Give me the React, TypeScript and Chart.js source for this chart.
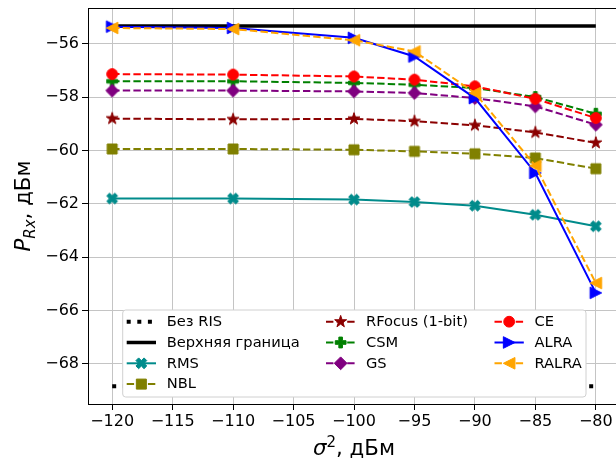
import React, { useEffect, useRef } from "react";
import { Chart, registerables } from "chart.js";

Chart.register(...registerables);

// ---------- data ----------
const sigmaDbm = [-120, -110, -100, -95, -90, -85, -80];
const noRisValues = [-68.84, -68.84, -68.84, -68.84, -68.84, -68.84, -68.84];
const upperBoundValues = [-55.33, -55.33, -55.33, -55.33, -55.33, -55.33, -55.33];
const rmsValues = [-61.8, -61.8, -61.84, -61.93, -62.07, -62.41, -62.84];
const nblValues = [-59.94, -59.94, -59.97, -60.03, -60.12, -60.28, -60.68];
const rfocusValues = [-58.8, -58.83, -58.81, -58.9, -59.05, -59.32, -59.71];
const csmValues = [-57.4, -57.4, -57.46, -57.53, -57.65, -57.99, -58.62];
const gsValues = [-57.75, -57.75, -57.78, -57.84, -58.03, -58.34, -59.03];
const ceValues = [-57.13, -57.15, -57.22, -57.34, -57.59, -58.06, -58.78];
const alraValues = [-55.35, -55.4, -55.77, -56.47, -58.03, -60.84, -65.34];
const ralraValues = [-55.4, -55.44, -55.86, -56.28, -57.84, -60.57, -64.97];

const seriesLabels = [
  "Без RIS",
  "Верхняя граница",
  "RMS",
  "NBL",
  "RFocus (1-bit)",
  "CSM",
  "GS",
  "CE",
  "ALRA",
  "RALRA",
];
const seriesValues = [
  noRisValues,
  upperBoundValues,
  rmsValues,
  nblValues,
  rfocusValues,
  csmValues,
  gsValues,
  ceValues,
  alraValues,
  ralraValues,
];

const xTickValues = [-120, -115, -110, -105, -100, -95, -90, -85, -80];
const yTickValues = [-68, -66, -64, -62, -60, -58, -56];

// ---------- styles ----------
type MarkerKind = "none" | "X" | "s" | "*" | "P" | "D" | "o" | ">" | "<";
interface SeriesStyle {
  color: string;
  dash: number[];
  width: number;
  marker: MarkerKind;
}
const DASH = [7.4, 3.2];
const seriesStyles: SeriesStyle[] = [
  { color: "#000000", dash: [4, 6.6], width: 4, marker: "none" },
  { color: "#000000", dash: [], width: 3.5, marker: "none" },
  { color: "#008B8B", dash: [], width: 2, marker: "X" },
  { color: "#808000", dash: DASH, width: 2, marker: "s" },
  { color: "#8B0000", dash: DASH, width: 2, marker: "*" },
  { color: "#008000", dash: DASH, width: 2, marker: "P" },
  { color: "#800080", dash: DASH, width: 2, marker: "D" },
  { color: "#FF0000", dash: DASH, width: 2, marker: "o" },
  { color: "#0000FF", dash: [], width: 2, marker: ">" },
  { color: "#FFA500", dash: DASH, width: 2, marker: "<" },
];

const FONT = "'DejaVu Sans', sans-serif";
const CANVAS_W = 628;
const CANVAS_H = 461;

function markerPath(ctx: CanvasRenderingContext2D, kind: MarkerKind, x: number, y: number) {
  ctx.beginPath();
  const poly = (pts: number[][]) => {
    pts.forEach((p, i) => (i === 0 ? ctx.moveTo(x + p[0], y + p[1]) : ctx.lineTo(x + p[0], y + p[1])));
    ctx.closePath();
  };
  switch (kind) {
    case "o":
      ctx.arc(x, y, 5.4, 0, Math.PI * 2);
      break;
    case "s":
      ctx.rect(x - 5, y - 5, 10, 10);
      break;
    case "D":
      poly([[0, -6.4], [6.4, 0], [0, 6.4], [-6.4, 0]]);
      break;
    case ">":
      poly([[5.8, 0], [-5.8, -5.8], [-5.8, 5.8]]);
      break;
    case "<":
      poly([[-5.8, 0], [5.8, -5.8], [5.8, 5.8]]);
      break;
    case "*": {
      const pts: number[][] = [];
      const ro = 6.3;
      const ri = ro * 0.381966;
      for (let i = 0; i < 10; i++) {
        const a = -Math.PI / 2 + (i * Math.PI) / 5;
        const r = i % 2 === 0 ? ro : ri;
        pts.push([r * Math.cos(a), r * Math.sin(a)]);
      }
      poly(pts);
      break;
    }
    case "P": {
      const s = 5.4 / 3;
      const base = [[-1, -3], [1, -3], [1, -1], [3, -1], [3, 1], [1, 1], [1, 3], [-1, 3], [-1, 1], [-3, 1], [-3, -1], [-1, -1]];
      poly(base.map((p) => [p[0] * s, p[1] * s]));
      break;
    }
    case "X": {
      const s = 5.4 / 2;
      const base = [[-1, -2], [0, -1], [1, -2], [2, -1], [1, 0], [2, 1], [1, 2], [0, 1], [-1, 2], [-2, 1], [-1, 0], [-2, -1]];
      poly(base.map((p) => [p[0] * s, p[1] * s]));
      break;
    }
    default:
      break;
  }
}

function drawMarker(ctx: CanvasRenderingContext2D, kind: MarkerKind, x: number, y: number, color: string) {
  if (kind === "none") return;
  ctx.save();
  ctx.setLineDash([]);
  markerPath(ctx, kind, x, y);
  ctx.fillStyle = color;
  ctx.fill();
  ctx.strokeStyle = color;
  ctx.lineWidth = 1;
  ctx.stroke();
  ctx.restore();
}

function makeMarkerCanvas(kind: MarkerKind, color: string): HTMLCanvasElement {
  const c = document.createElement("canvas");
  c.width = 20;
  c.height = 20;
  const ctx = c.getContext("2d")!;
  drawMarker(ctx, kind, 10, 10, color);
  return c;
}

function fmt(v: number): string {
  return String(v).replace("-", "\u2212");
}

interface TextPart {
  text: string;
  font: string;
  dy: number;
}
function drawParts(ctx: CanvasRenderingContext2D, parts: TextPart[], cx: number, baseline: number) {
  let total = 0;
  const widths = parts.map((p) => {
    ctx.font = p.font;
    const w = ctx.measureText(p.text).width;
    total += w;
    return w;
  });
  let x = cx - total / 2;
  ctx.textAlign = "left";
  ctx.textBaseline = "alphabetic";
  ctx.fillStyle = "#000";
  parts.forEach((p, i) => {
    ctx.font = p.font;
    ctx.fillText(p.text, x, baseline + p.dy);
    x += widths[i];
  });
}

const legendColumns = [
  [0, 1, 2, 3],
  [4, 5, 6],
  [7, 8, 9],
];

const customPlugin = {
  id: "customDecor",
  afterDatasetsDraw(chart: any) {
    const ctx: CanvasRenderingContext2D = chart.ctx;
    const lx = 122.7, ly = 310, lw = 463.3, lh = 87, r = 3;
    ctx.save();
    ctx.beginPath();
    ctx.moveTo(lx + r, ly);
    ctx.lineTo(lx + lw - r, ly);
    ctx.quadraticCurveTo(lx + lw, ly, lx + lw, ly + r);
    ctx.lineTo(lx + lw, ly + lh - r);
    ctx.quadraticCurveTo(lx + lw, ly + lh, lx + lw - r, ly + lh);
    ctx.lineTo(lx + r, ly + lh);
    ctx.quadraticCurveTo(lx, ly + lh, lx, ly + lh - r);
    ctx.lineTo(lx, ly + r);
    ctx.quadraticCurveTo(lx, ly, lx + r, ly);
    ctx.closePath();
    ctx.fillStyle = "#ffffff";
    ctx.fill();
    ctx.strokeStyle = "#d0d0d0";
    ctx.lineWidth = 1;
    ctx.stroke();

    const colX = [126.7, 326, 494.5];
    const rowY = [321.7, 342.5, 363.3, 384.1];
    const handleLen = 29.3;
    const textGap = 10.7;
    legendColumns.forEach((col, ci) => {
      col.forEach((si, ri) => {
        const st = seriesStyles[si];
        const x0 = colX[ci];
        const y = rowY[ri];
        ctx.save();
        ctx.beginPath();
        ctx.setLineDash(st.dash);
        ctx.lineWidth = st.width;
        ctx.strokeStyle = st.color;
        ctx.lineCap = "butt";
        ctx.moveTo(x0, y);
        ctx.lineTo(x0 + handleLen, y);
        ctx.stroke();
        ctx.restore();
        drawMarker(ctx, st.marker, x0 + handleLen / 2, y, st.color);
        ctx.fillStyle = "#000";
        ctx.font = "14.67px " + FONT;
        ctx.textAlign = "left";
        ctx.textBaseline = "middle";
        ctx.fillText(seriesLabels[si], x0 + handleLen + textGap, y + 0.5);
      });
    });
    ctx.restore();
  },
  afterDraw(chart: any) {
    const ctx: CanvasRenderingContext2D = chart.ctx;
    const area = chart.chartArea;
    ctx.save();
    ctx.strokeStyle = "#000";
    ctx.lineWidth = 1;
    ctx.setLineDash([]);
    ctx.beginPath();
    ctx.moveTo(area.left, Math.round(area.top) + 0.5);
    ctx.lineTo(area.right, Math.round(area.top) + 0.5);
    ctx.moveTo(Math.round(area.right) - 0.5, area.top);
    ctx.lineTo(Math.round(area.right) - 0.5, area.bottom);
    ctx.stroke();

    drawParts(
      ctx,
      [
        { text: "σ", font: "italic 21.3px " + FONT, dy: 0 },
        { text: "2", font: "15px " + FONT, dy: -8.5 },
        { text: ", дБм", font: "21.3px " + FONT, dy: 0 },
      ],
      354,
      455
    );
    ctx.save();
    ctx.translate(30, (area.top + area.bottom) / 2);
    ctx.rotate(-Math.PI / 2);
    drawParts(
      ctx,
      [
        { text: "P", font: "italic 21.3px " + FONT, dy: 0 },
        { text: "Rx", font: "italic 15px " + FONT, dy: 4.5 },
        { text: ", дБм", font: "21.3px " + FONT, dy: 0 },
      ],
      0,
      0
    );
    ctx.restore();
    ctx.restore();
  },
};

export default function App() {
  const canvasRef = useRef<HTMLCanvasElement | null>(null);

  useEffect(() => {
    const canvas = canvasRef.current;
    if (!canvas) return;
    const n = seriesLabels.length;
    const datasets = seriesLabels.map((label, i) => {
      const st = seriesStyles[i];
      const img = st.marker === "none" ? undefined : makeMarkerCanvas(st.marker, st.color);
      return {
        label,
        data: sigmaDbm.map((x, k) => ({ x, y: seriesValues[i][k] })),
        borderColor: st.color,
        backgroundColor: st.color,
        borderWidth: st.width,
        borderDash: st.dash,
        borderCapStyle: "butt" as const,
        pointStyle: img ?? "circle",
        pointRadius: img ? 6 : 0,
        pointHoverRadius: img ? 6 : 0,
        tension: 0,
        fill: false,
        order: n - i,
      };
    });

    const gridCommon = {
      color: "#c4c4c4",
      lineWidth: 1,
      tickColor: "#000",
      tickLength: 6,
      tickWidth: 1,
      drawTicks: true,
    };

    const chart = new Chart(canvas, {
      type: "line",
      data: { datasets: datasets as any },
      plugins: [customPlugin],
      options: {
        animation: false,
        responsive: false,
        devicePixelRatio: 1,
        layout: { padding: { top: 8, left: 0, right: 0, bottom: 0 } },
        plugins: {
          legend: { display: false },
          tooltip: { enabled: false },
          title: { display: false },
        },
        scales: {
          x: {
            type: "linear",
            min: -122,
            max: -78,
            grid: gridCommon,
            border: { display: true, color: "#000", width: 1 },
            ticks: {
              color: "#000",
              font: { family: FONT, size: 16 },
              padding: 2,
              maxRotation: 0,
              autoSkip: false,
              callback: (v: any) => fmt(Number(v)),
            },
            afterBuildTicks: (axis: any) => {
              axis.ticks = xTickValues.map((v) => ({ value: v }));
            },
            afterFit: (scale: any) => {
              scale.height = 57;
              scale.paddingLeft = 0;
              scale.paddingRight = 0;
            },
          },
          y: {
            type: "linear",
            min: -69.51,
            max: -54.65,
            grid: gridCommon,
            border: { display: true, color: "#000", width: 1 },
            ticks: {
              color: "#000",
              font: { family: FONT, size: 16 },
              padding: 3,
              autoSkip: false,
              callback: (v: any) => fmt(Number(v)),
            },
            afterBuildTicks: (axis: any) => {
              axis.ticks = yTickValues.map((v) => ({ value: v }));
            },
            afterFit: (scale: any) => {
              scale.width = 88;
              scale.paddingTop = 0;
              scale.paddingBottom = 0;
            },
          },
        },
      },
    });
    return () => chart.destroy();
  }, []);

  return (
    <div
      style={{
        position: "fixed",
        left: 0,
        top: 0,
        width: 616,
        height: 461,
        overflow: "hidden",
        background: "#ffffff",
      }}
    >
      <canvas
        ref={canvasRef}
        width={CANVAS_W}
        height={CANVAS_H}
        style={{ display: "block", width: CANVAS_W, height: CANVAS_H }}
      />
    </div>
  );
}
